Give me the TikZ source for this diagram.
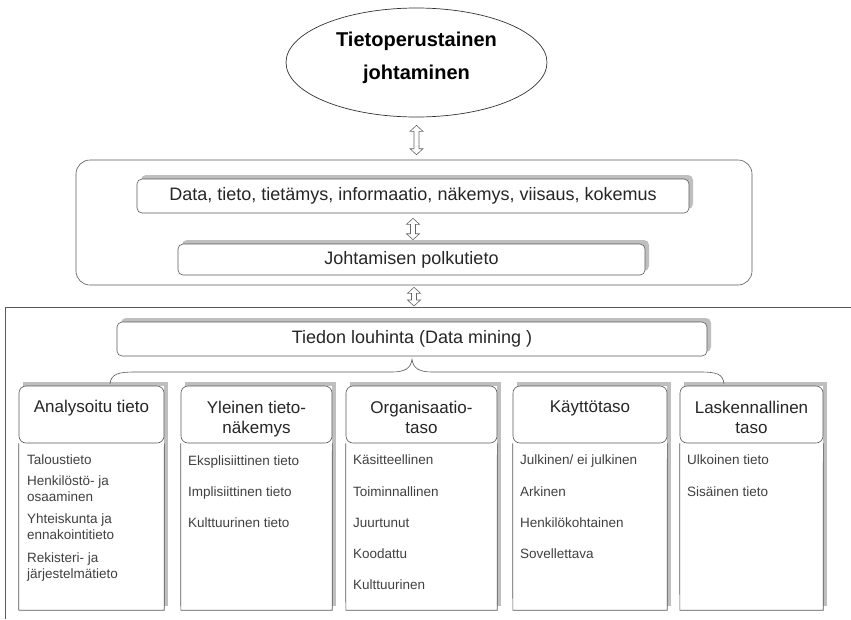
\documentclass[tikz,border=0pt]{standalone}
\usepackage{fontspec}
\setmainfont{Liberation Sans}
\usetikzlibrary{shapes.geometric,arrows.meta,shadows,calc}
\newcommand\hollowdblarrow[2]{%
  \draw[draw=black!60, line width=0.6pt, fill=white] let \p1=(#1), \p2=(#2) in
    (\x1,\y1) -- (\x1+6.5pt,\y1-6pt) -- (\x1+2.5pt,\y1-6pt) -- (\x1+2.5pt,\y2+6pt)
    -- (\x1+6.5pt,\y2+6pt) -- (\x1,\y2) -- (\x1-6.5pt,\y2+6pt) -- (\x1-2.5pt,\y2+6pt)
    -- (\x1-2.5pt,\y1-6pt) -- (\x1-6.5pt,\y1-6pt) -- cycle;}
\begin{document}
\begin{tikzpicture}[x=1pt,y=-1pt,
  ln/.style={draw=black!65, line width=0.6pt},
  shd/.style={drop shadow={shadow xshift=4pt, shadow yshift=4pt, fill=black!50, opacity=0.5}},
  bbox/.style={ln, fill=white, rounded corners=5pt, inner sep=0pt, font=\fontsize{18}{20}\selectfont, text=black!85, shd},
  colbg/.style={fill=white, inner sep=0pt, shd},
  hdr/.style={ln, fill=white, rounded corners=7pt, inner sep=0pt},
  htext/.style={font=\fontsize{17}{20}\selectfont, align=center, anchor=base, text=black!85, inner sep=0pt},
  item/.style={font=\fontsize{13.5}{16}\selectfont, align=left, anchor=base west, text=black!75, inner sep=0pt},
]
\useasboundingbox (0,0) rectangle (851,619);
\fill[white] (0,0) rectangle (851,619);

% top ellipse
\node[ellipse, draw=black!80, line width=0.7pt, fill=white, minimum width=261pt, minimum height=109pt, inner sep=0pt] (ell) at (416.5,62.5) {};
\node[font=\bfseries\fontsize{20}{33}\selectfont, align=center, inner sep=0pt] (elltxt) at (416.5,57.5) {Tietoperustainen\\johtaminen};

% middle container
\node[ln, rounded corners=14pt, minimum width=676pt, minimum height=125pt, inner sep=0pt] (cont) at (414,222.5) {};
\node[bbox, minimum width=552pt, minimum height=34pt] (dbox) at (413,196) {Data, tieto, tietämys, informaatio, näkemys, viisaus, kokemus};
\node[bbox, minimum width=467pt, minimum height=31pt] (pbox) at (411.5,259.5) {Johtamisen polkutieto};

% bottom frame
\coordinate (ftop) at (414,307);
\draw[ln] (851,307) -- (5,307) -- (5,619);
\node[bbox, minimum width=590pt, minimum height=34pt] (tbox) at (412,339) {Tiedon louhinta (Data mining )};

% hollow double arrows
\coordinate (a1s) at ([yshift=-8pt]ell.south);
\coordinate (a1e) at ([yshift=5pt]ell.south |- cont.north);
\hollowdblarrow{a1s}{a1e}
\coordinate (a2s) at ([yshift=-5pt]dbox.south);
\coordinate (a2e) at ([yshift=4pt]dbox.south |- pbox.north);
\hollowdblarrow{a2s}{a2e}
\coordinate (a3s) at ([yshift=-2pt]cont.south);
\coordinate (a3e) at ([yshift=1pt]ftop);
\hollowdblarrow{a3s}{a3e}

% brace
\coordinate (btip) at ([yshift=-3pt]tbox.south);
\coordinate (bl) at (110,384);
\coordinate (br) at (724,384);
\draw[ln] (bl) .. controls (111,374) and (118,372) .. (135,372) -- (392,372)
  .. controls (405,372) and (411,368) .. (btip)
  .. controls (413,368) and (419,372) .. (432,372) -- (700,372)
  .. controls (717,372) and (723,374) .. (br);

% columns
\foreach \n/\l/\r in {1/19/164, 2/181/332, 3/346/497, 4/513/667, 5/680/823} {
  \pgfmathsetmacro\w{\r-\l}
  \pgfmathsetmacro\c{(\l+\r)/2}
  \node[colbg, minimum width=\w pt, minimum height=224pt] (col\n) at (\c,498) {};
  \node[hdr, minimum width=\w pt, minimum height=57pt] (hdr\n) at (\c,414.5) {};
  \draw[ln] (hdr\n.south west) -- (col\n.south west) -- (col\n.south east) -- (hdr\n.south east);
}

% headers (base = baseline of last line)
\node[htext] (ht1) at (91.5,412) {Analysoitu tieto};
\node[htext] (ht2) at (256.5,433) {Yleinen tieto-\\näkemys};
\node[htext] (ht3) at (421.5,433) {Organisaatio-\\taso};
\node[htext] (ht4) at (590,412) {Käyttötaso};
\node[htext] (ht5) at (751.5,433) {Laskennallinen\\taso};

% items column 1
\node[item] (i11) at (27,464.5) {Taloustieto};
\node[item] (i12) at (27,501.5) {Henkilöstö- ja\\osaaminen};
\node[item] (i13) at (27,539.5) {Yhteiskunta ja\\ennakointitieto};
\node[item] (i14) at (27,578.5) {Rekisteri- ja\\järjestelmätieto};
% column 2
\node[item] (i21) at (188,465.5) {Eksplisiittinen tieto};
\node[item] (i22) at (188,496.5) {Implisiittinen tieto};
\node[item] (i23) at (188,527.5) {Kulttuurinen tieto};
% column 3
\node[item] (i31) at (353,464.5) {Käsitteellinen};
\node[item] (i32) at (353,496.5) {Toiminnallinen};
\node[item] (i33) at (353,527.5) {Juurtunut};
\node[item] (i34) at (353,558.5) {Koodattu};
\node[item] (i35) at (353,589.5) {Kulttuurinen};
% column 4
\node[item] (i41) at (520,464.5) {Julkinen/ ei julkinen};
\node[item] (i42) at (520,496.5) {Arkinen};
\node[item] (i43) at (520,527.5) {Henkilökohtainen};
\node[item] (i44) at (520,558.5) {Sovellettava};
% column 5
\node[item] (i51) at (687,464.5) {Ulkoinen tieto};
\node[item] (i52) at (687,496.5) {Sisäinen tieto};
\end{tikzpicture}
\end{document}
